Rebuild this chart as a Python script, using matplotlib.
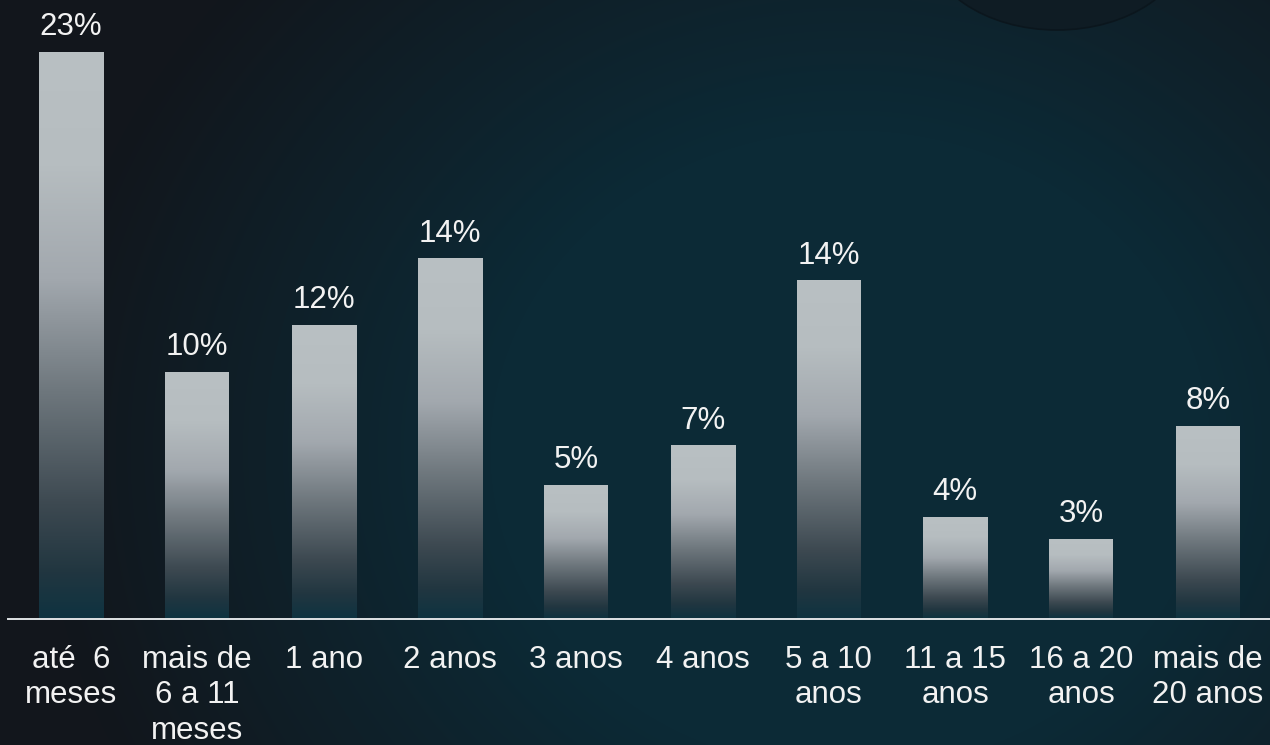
import matplotlib
matplotlib.use('Agg')
import matplotlib.pyplot as plt
import numpy as np
from matplotlib.colors import LinearSegmentedColormap, to_rgb
from matplotlib.patches import Ellipse

# dados
categorias = ['até  6\nmeses', 'mais de\n6 a 11\nmeses', '1 ano', '2 anos', '3 anos',
              '4 anos', '5 a 10\nanos', '11 a 15\nanos', '16 a 20\nanos', 'mais de\n20 anos']
valores = [23.0, 10.0, 11.9, 14.6, 5.4, 7.0, 13.7, 4.1, 3.2, 7.8]
rotulos = ['23%', '10%', '12%', '14%', '5%', '7%', '14%', '4%', '3%', '8%']

W, H = 1270, 745
fig = plt.figure(figsize=(W / 100, H / 100), dpi=100)

# fundo: gradiente escuro -> azul petroleo
bg = fig.add_axes([0, 0, 1, 1], zorder=-5)
yy, xx = np.mgrid[0:H, 0:W]
d = np.sqrt(((xx - 850) / 900.0) ** 2 + ((yy - 450) / 800.0) ** 2)
w = np.clip((d - 0.4) / 0.5, 0, 1)[..., None]
teal = np.array(to_rgb('#0c2a36'))
dark = np.array(to_rgb('#12161c'))
img = teal * (1 - w) + dark * w
bg.imshow(img, extent=[0, W, H, 0], aspect='auto', interpolation='bilinear')
bg.add_patch(Ellipse((1057, -60), 262, 180, facecolor='#0f1c24', edgecolor='#0b161d', lw=1.2))
bg.set_xlim(0, W)
bg.set_ylim(H, 0)
bg.axis('off')

# eixo principal
px_unit = 24.6
base = 618
ax = fig.add_axes([0, (H - base) / H, 1, base / H])
ax.patch.set_alpha(0)

cmap = LinearSegmentedColormap.from_list('barra', [
    (0.0, '#0f3341'), (0.08, '#213640'), (0.2, '#3d4951'), (0.4, '#6e777d'),
    (0.6, '#a2a8ae'), (0.8, '#b6bdc0'), (1.0, '#b9c0c3')])
grad = np.linspace(0, 1, 256).reshape(-1, 1)

x = np.arange(len(valores))
larg = 64 / 126.3
barras = ax.bar(x, valores, width=larg, color='none')
for b in barras:
    x0 = b.get_x()
    ax.imshow(grad, extent=[x0, x0 + b.get_width(), 0, b.get_height()],
              origin='lower', aspect='auto', cmap=cmap, zorder=2)

for xi, v, r in zip(x, valores, rotulos):
    ax.annotate(r, xy=(xi, v), xytext=(0, 12.2), textcoords='offset points',
                ha='center', va='baseline', fontsize=22.5, color='#f2f2f2',
                family='Liberation Sans')

for xi, c in zip(x, categorias):
    ax.annotate(c, xy=(xi, 0), xytext=(0, -19.5), textcoords='offset points',
                ha='center', va='top', fontsize=22.5, color='#f2f2f2',
                family='Liberation Sans', linespacing=1.23, annotation_clip=False)

ax.axhline(-0.04, xmin=8 / W, xmax=1, color='#dfe3e5', lw=1.4, zorder=3, clip_on=False)

ax.set_xlim(-71 / 126.3, (W - 71) / 126.3)
ax.set_ylim(0, base / px_unit)
ax.axis('off')

plt.savefig('out.png', dpi=100)
plt.close(fig)
